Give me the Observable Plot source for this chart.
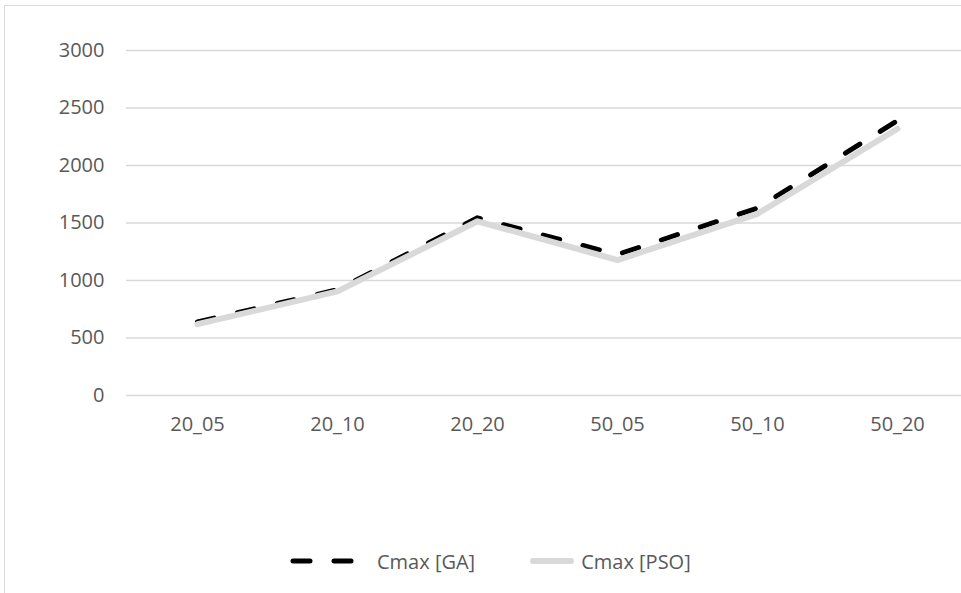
<!DOCTYPE html>
<html>
<head>
<meta charset="utf-8">
<script src="https://cdn.jsdelivr.net/npm/d3@7"></script>
<script src="https://cdn.jsdelivr.net/npm/@observablehq/plot@0.6"></script>
<style>
  html, body { margin: 0; padding: 0; background: #ffffff; }
  #chart {
    position: relative;
    width: 961px;
    height: 593px;
    overflow: hidden;
    font-family: "Open Sans", sans-serif;
  }
  #frame {
    position: absolute;
    left: 4px;
    top: 5px;
    right: -10px;
    bottom: -10px;
    border-left: 1.5px solid #d9d9d9;
    border-top: 1.5px solid #d9d9d9;
    pointer-events: none;
  }
  #plot { position: absolute; left: 0; top: 0; }
  #legend {
    position: absolute;
    left: 290px;
    top: 546px;
    height: 30px;
    display: flex;
    align-items: center;
    font-size: 20px;
    color: #595959;
  }
  #legend svg { display: block; }
</style>
</head>
<body>
<div id="chart">
  <div id="plot"></div>
  <div id="legend"></div>
  <div id="frame"></div>
</div>
<script>
// Instances (jobs_machines) on the x axis
const categories = ["20_05", "20_10", "20_20", "50_05", "50_10", "50_20"];
// Makespan per instance for each algorithm
const cmaxGA = [640, 920, 1545, 1225, 1630, 2390];
const cmaxPSO = [620, 905, 1515, 1178, 1580, 2320];
const yTicks = [0, 500, 1000, 1500, 2000, 2500, 3000];
const seriesNames = ["Cmax [GA]", "Cmax [PSO]"];

const rows = categories.flatMap((c, i) => [
  {instance: c, series: seriesNames[0], value: cmaxGA[i]},
  {instance: c, series: seriesNames[1], value: cmaxPSO[i]}
]);

const gaStyle = {stroke: "#000000", strokeWidth: 5, dash: "17,24"};
const psoStyle = {stroke: "#d9d9d9", strokeWidth: 6};

const plot = Plot.plot({
  width: 961,
  height: 440,
  marginTop: 50,
  marginBottom: 45,
  marginLeft: 126,
  marginRight: 0,
  style: {fontFamily: "'Open Sans', sans-serif", fontSize: "20px", color: "#595959", background: "transparent"},
  x: {type: "point", domain: categories, range: [197, 897], padding: 0, label: null},
  y: {domain: [0, 3000], ticks: yTicks, label: null},
  marks: [
    Plot.ruleY(yTicks, {stroke: "#d9d9d9", strokeWidth: 1.5, strokeOpacity: 1}),
    Plot.axisY({ticks: yTicks, tickSize: 0, tickPadding: 22, tickFormat: d => String(d), fill: "#595959"}),
    Plot.axisX({tickSize: 0, tickPadding: 21, fill: "#595959"}),
    Plot.line(rows.filter(d => d.series === seriesNames[0]), {
      x: "instance", y: "value",
      stroke: gaStyle.stroke, strokeWidth: gaStyle.strokeWidth,
      strokeDasharray: gaStyle.dash, strokeLinecap: "round", strokeLinejoin: "round"
    }),
    Plot.line(rows.filter(d => d.series === seriesNames[1]), {
      x: "instance", y: "value",
      stroke: psoStyle.stroke, strokeWidth: psoStyle.strokeWidth,
      strokeLinecap: "round", strokeLinejoin: "round"
    })
  ]
});
document.getElementById("plot").appendChild(plot);

// Legend below the chart
const legend = d3.select("#legend");
function sample(width, style) {
  const svg = legend.append("svg").attr("width", width).attr("height", 12);
  svg.append("line")
    .attr("x1", 3).attr("x2", width - 3).attr("y1", 6).attr("y2", 6)
    .attr("stroke", style.stroke)
    .attr("stroke-width", style.strokeWidth)
    .attr("stroke-linecap", "round")
    .attr("stroke-dasharray", style.dash || null);
}
sample(68, gaStyle);
legend.append("span").style("margin-left", "19px").text(seriesNames[0]);
legend.append("span").style("width", "55px").style("display", "inline-block");
sample(44, psoStyle);
legend.append("span").style("margin-left", "7px").text(seriesNames[1]);
</script>
</body>
</html>
